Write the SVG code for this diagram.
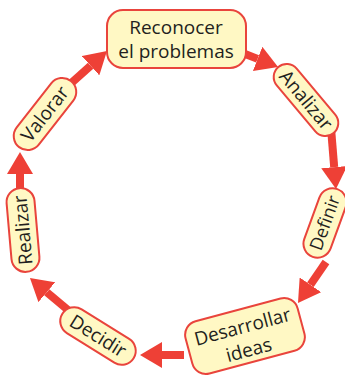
<svg xmlns="http://www.w3.org/2000/svg" width="345" height="376" viewBox="0 0 345 376">
<defs>
<marker id="ah" markerUnits="userSpaceOnUse" markerWidth="22" markerHeight="26" viewBox="0 0 22 26" refX="0" refY="13" orient="auto"><path d="M0,0 L22,13 L0,26 Z" fill="#EE4036"/></marker>
</defs>
<style>
.box{fill:#FFF8C4;stroke:#E9443C;stroke-width:2}
.t{font-family:"Open Sans","Noto Sans",sans-serif;font-size:19px;fill:#231F20;text-anchor:middle}
.c{stroke:#EE4036;stroke-width:8;fill:none;marker-end:url(#ah)}
</style>
<rect width="345" height="376" fill="#fff"/>
<g id="connectors">
<line class="c" x1="240" y1="52" x2="257.6" y2="58.9"/>
<line class="c" x1="331" y1="128" x2="334.2" y2="167.1"/>
<line class="c" x1="326" y1="262" x2="310.4" y2="284.8"/>
<line class="c" x1="184" y1="355" x2="162" y2="355"/>
<line class="c" x1="68" y1="310" x2="46.8" y2="292.2"/>
<line class="c" x1="20" y1="195" x2="20" y2="174"/>
<line class="c" x1="68" y1="86" x2="90.6" y2="65.7"/>
</g>
<g id="reconocer">
<rect class="box" x="107" y="10" width="139" height="58" rx="16"/>
<text class="t" x="176" y="34">Reconocer</text>
<text class="t" x="176" y="58">el problemas</text>
</g>
<g id="analizar" transform="translate(306,100) rotate(50)">
<rect class="box" x="-43" y="-13" width="86" height="26" rx="13"/>
<text class="t" x="0" y="6.5">Analizar</text>
</g>
<g id="definir" transform="translate(325,223) rotate(-70)">
<rect class="box" x="-36" y="-14" width="72" height="28" rx="14"/>
<text class="t" x="0" y="6" style="font-size:18px">Definir</text>
</g>
<g id="desarrollar" transform="translate(245,336) rotate(-15)">
<rect class="box" x="-58" y="-27" width="116" height="54" rx="14"/>
<text class="t" x="0" y="-3">Desarrollar</text>
<text class="t" x="0" y="21">ideas</text>
</g>
<g id="decidir" transform="translate(98,336) rotate(32)">
<rect class="box" x="-42" y="-14" width="84" height="28" rx="14"/>
<text class="t" x="0" y="6.5">Decidir</text>
</g>
<g id="realizar" transform="translate(23,230) rotate(-95)">
<rect class="box" x="-42" y="-14" width="84" height="28" rx="14"/>
<text class="t" x="0" y="6.5">Realizar</text>
</g>
<g id="valorar" transform="translate(45,114) rotate(-52)">
<rect class="box" x="-42" y="-14" width="84" height="28" rx="14"/>
<text class="t" x="0" y="6.5">Valorar</text>
</g>
</svg>
